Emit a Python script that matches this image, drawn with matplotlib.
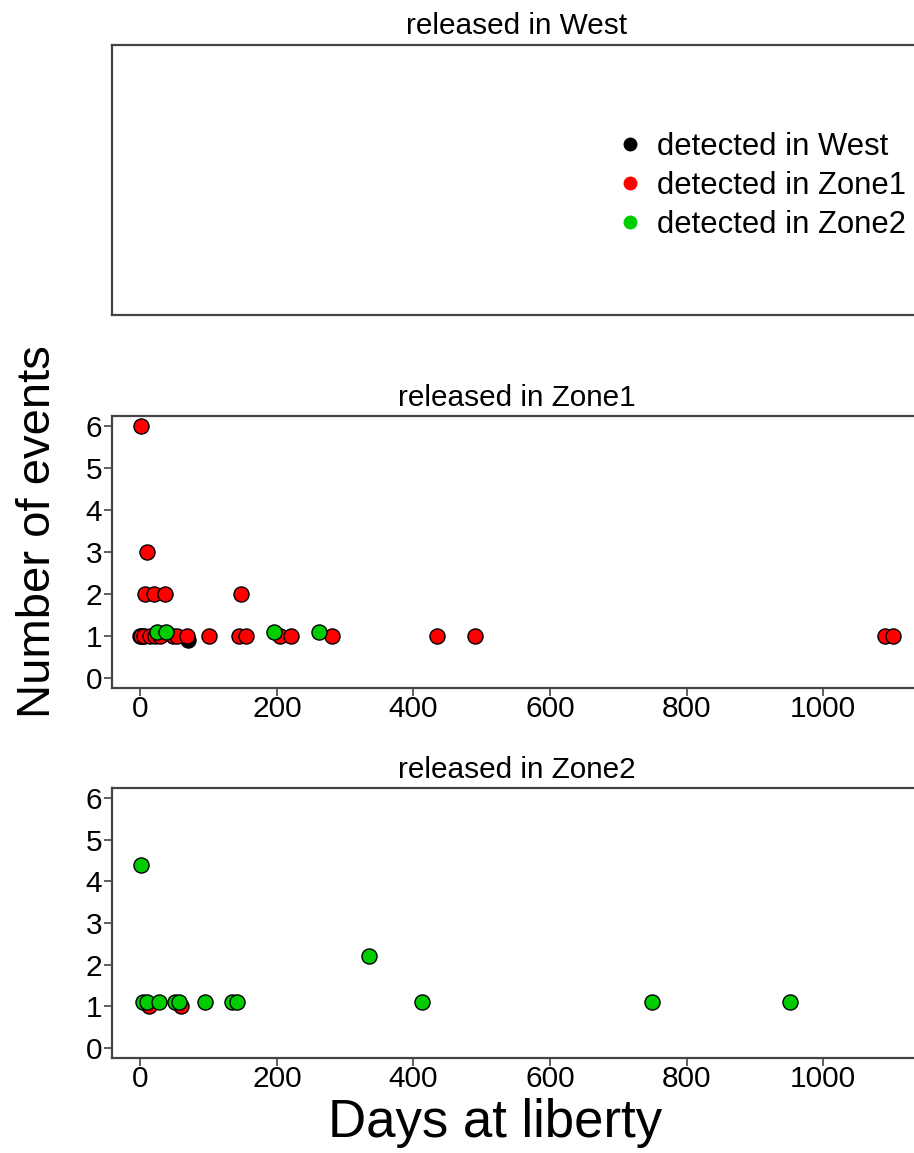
import numpy as np
import matplotlib.pyplot as plt

plt.rcParams['font.family'] = ['Liberation Sans', 'DejaVu Sans']

# released in Zone1 -- days at liberty / number of events, by detection zone
z1_west_days = [0, 4, 69]
z1_west_n = [1, 1, 0.91]
z1_zone1_days = [1, 9, 7, 20, 36, 147, 1, 5, 14, 22, 28, 48, 54, 68, 101, 145, 155,
                 205, 220, 280, 434, 490, 1091, 1103]
z1_zone1_n = [6, 3, 2, 2, 2, 2, 1, 1, 1, 1, 1, 1, 1, 1, 1, 1, 1,
              1, 1, 1, 1, 1, 1, 1]
z1_zone2_days = [24, 38, 195, 261]
z1_zone2_n = [1.1, 1.1, 1.1, 1.1]

# released in Zone2
z2_zone1_days = [12, 59]
z2_zone1_n = [1, 1]
z2_zone2_days = [1, 335, 3, 9, 27, 50, 57, 94, 134, 141, 413, 749, 952]
z2_zone2_n = [4.4, 2.2, 1.1, 1.1, 1.1, 1.1, 1.1, 1.1, 1.1, 1.1, 1.1, 1.1, 1.1]

zones = ["West", "Zone1", "Zone2"]
colors = ["black", "#FF0000", "#00CD00"]

fig = plt.figure(figsize=(9.14, 11.53), dpi=100)

left = 112 / 914
width = (922 - 112) / 914
ax_west = fig.add_axes([left, 1 - 315 / 1153, width, 270 / 1153])
ax_z1 = fig.add_axes([left, 1 - 688 / 1153, width, 272 / 1153])
ax_z2 = fig.add_axes([left, 1 - 1058 / 1153, width, 270 / 1153])

box_col = "#444444"
for ax in [ax_west, ax_z1, ax_z2]:
    for sp in ax.spines.values():
        sp.set_color(box_col)
        sp.set_linewidth(1.6)

# top panel: empty, only legend
ax_west.set_xticks([])
ax_west.set_yticks([])
ax_west.set_title("released in West", fontsize=21.4, pad=8)
for z, c in zip(zones, colors):
    ax_west.plot([], [], "o", color=c, markersize=9, label="detected in " + z)
ax_west.legend(loc="center left", bbox_to_anchor=(0.598, 0.478), frameon=False,
               fontsize=22.3, handletextpad=0.25, labelspacing=0.3,
               handlelength=1.2, borderpad=0)

ms = 118
ax_z1.scatter(z1_west_days, z1_west_n, s=ms, c=colors[0], edgecolors="black", linewidths=1, zorder=3)
ax_z1.scatter(z1_zone1_days, z1_zone1_n, s=ms, c=colors[1], edgecolors="black", linewidths=1, zorder=3)
ax_z1.scatter(z1_zone2_days, z1_zone2_n, s=ms, c=colors[2], edgecolors="black", linewidths=1, zorder=3)

ax_z2.scatter(z2_zone1_days, z2_zone1_n, s=ms, c=colors[1], edgecolors="black", linewidths=1, zorder=3)
ax_z2.scatter(z2_zone2_days, z2_zone2_n, s=ms, c=colors[2], edgecolors="black", linewidths=1, zorder=3)

for ax, name in [(ax_z1, "Zone1"), (ax_z2, "Zone2")]:
    ax.set_xlim(-41.7, 1145)
    ax.set_ylim(-0.24, 6.24)
    ax.set_xticks([0, 200, 400, 600, 800, 1000])
    ax.set_yticks(range(7))
    ax.tick_params(labelsize=21.5, length=6, width=1.2, color=box_col)
    ax.tick_params(axis="x", pad=-1)
    ax.tick_params(axis="y", pad=1)
    ax.set_title("released in " + name, fontsize=21.4, pad=7)

fig.text(495 / 914, 1 - 1123 / 1153, "Days at liberty", fontsize=38,
         ha="center", va="center")
fig.text(38 / 914, 1 - 532 / 1153, "Number of events", fontsize=34,
         rotation=90, ha="center", va="center")

fig.savefig("out.png", dpi=100)
